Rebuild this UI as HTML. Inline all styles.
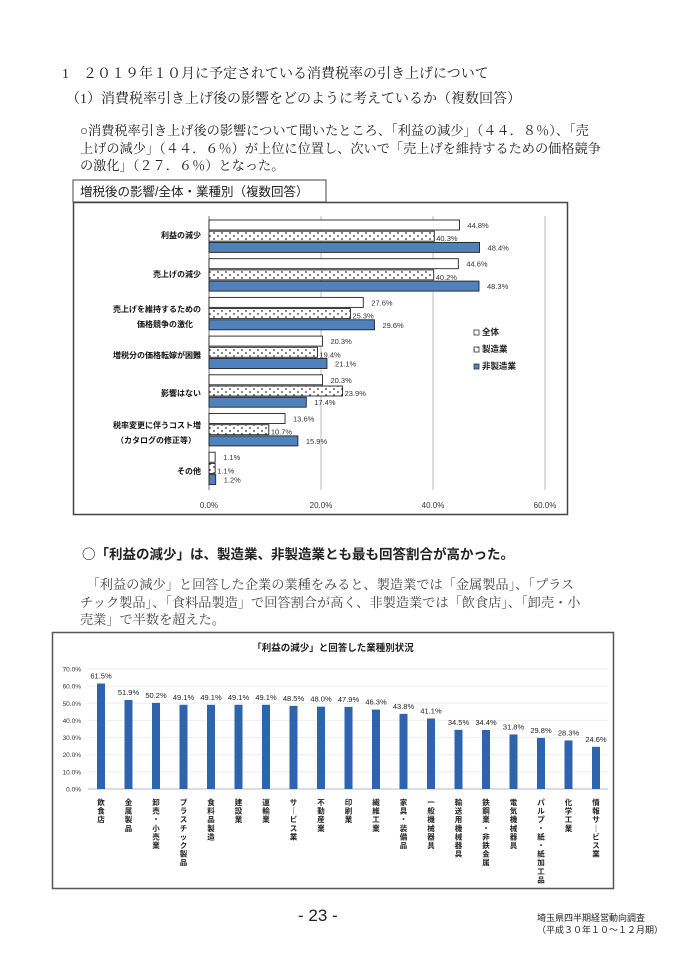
<!DOCTYPE html>
<html><head><meta charset="utf-8">
<style>
body{margin:0;width:674px;height:960px;background:#fff;position:relative;overflow:hidden;font-family:"Liberation Serif","Noto Serif CJK SC","Noto Sans CJK JP",serif;color:#222}
.t{position:absolute;white-space:nowrap;font-size:13px}
.p{position:absolute;font-size:13.2px;line-height:17.5px;white-space:nowrap}
svg{position:absolute;left:0;top:0}
svg text{font-family:"Liberation Sans","Noto Sans CJK JP",sans-serif}
</style></head><body>
<div class="t" style="left:62px;top:63px;font-size:14px">1　２０１９年１０月に予定されている消費税率の引き上げについて</div>
<div class="t" style="left:66px;top:88px;font-size:14px">（1）消費税率引き上げ後の影響をどのように考えているか（複数回答）</div>
<div class="p" style="left:80px;top:122px">○消費税率引き上げ後の影響について聞いたところ、「利益の減少」（４４．８％）、「売<br>上げの減少」（４４．６％）が上位に位置し、次いで「売上げを維持するための価格競争<br>の激化」（２７．６％）となった。</div>
<div class="t" style="left:82px;top:543px;font-size:13.5px;font-weight:bold;font-family:'Noto Sans CJK JP',sans-serif">○「利益の減少」は、製造業、非製造業とも最も回答割合が高かった。</div>
<div class="p" style="left:80px;top:576px;color:#444">　「利益の減少」と回答した企業の業種をみると、製造業では「金属製品」、「プラス<br>チック製品」、「食料品製造」で回答割合が高く、非製造業では「飲食店」、「卸売・小<br>売業」で半数を超えた。</div>
<div class="t" style="left:298px;top:906px;font-size:17px;font-family:'Liberation Sans',sans-serif">- 23 -</div>
<div class="t" style="left:537px;top:912px;font-size:9px;line-height:12px;font-family:'Noto Sans CJK JP',sans-serif">埼玉県四半期経営動向調査<br>（平成３０年１０～１２月期）</div>

<svg width="674" height="960">
<defs><pattern id="dots" width="8" height="6" patternUnits="userSpaceOnUse"><rect width="8" height="6" fill="#fff"/><circle cx="2" cy="2" r="0.9" fill="#333"/><circle cx="6" cy="5" r="0.9" fill="#333"/></pattern></defs>
<rect x="73" y="180" width="253" height="22" fill="#fff" stroke="#444" stroke-width="1"/>
<text x="80" y="196" font-size="12.5" fill="#222" font-family="Noto Sans CJK JP">増税後の影響/全体・業種別（複数回答）</text>
<rect x="73.5" y="202.5" width="494" height="312" fill="#fff" stroke="#444" stroke-width="1.5"/>
<g stroke="#bbb" stroke-width="1"><line x1="321" y1="216" x2="321" y2="490"/><line x1="433" y1="216" x2="433" y2="490"/><line x1="545" y1="216" x2="545" y2="490"/></g>
<line x1="209" y1="216" x2="209" y2="490" stroke="#777"/>
<g font-size="8" fill="#333">
<text x="209" y="508" text-anchor="middle">0.0%</text><text x="321" y="508" text-anchor="middle">20.0%</text><text x="433" y="508" text-anchor="middle">40.0%</text><text x="545" y="508" text-anchor="middle">60.0%</text>
</g>
<g id="bars1" font-size="7.5" fill="#333"></g>
<g font-size="8" fill="#111" text-anchor="end" font-weight="bold">
<text x="201" y="238">利益の減少</text>
<text x="201" y="277">売上げの減少</text>
<text x="201" y="312">売上げを維持するための</text><text x="193" y="327">価格競争の激化</text>
<text x="201" y="358">増税分の価格転嫁が困難</text>
<text x="201" y="396">影響はない</text>
<text x="201" y="428">税率変更に伴うコスト増</text><text x="196" y="443">（カタログの修正等）</text>
<text x="201" y="474">その他</text>
</g>
<g font-size="8.5" fill="#222" font-weight="bold">
<rect x="474" y="330" width="5" height="5" fill="#fff" stroke="#333" stroke-width=".8"/><text x="482" y="335">全体</text>
<rect x="474" y="347" width="5" height="5" fill="url(#dots)" stroke="#333" stroke-width=".8"/><text x="482" y="352">製造業</text>
<rect x="474" y="364" width="5" height="5" fill="#4f81bd" stroke="#333" stroke-width=".8"/><text x="482" y="369">非製造業</text>
</g>
<rect x="52.5" y="632.5" width="561" height="256" fill="#fff" stroke="#555" stroke-width="1.5"/>
<text x="333" y="651" font-size="9.5" text-anchor="middle" fill="#222" font-family="Noto Sans CJK JP" font-weight="bold">「利益の減少」と回答した業種別状況</text>
<g id="grid2"></g>
<g id="bars2"></g>
</svg>
<script>
var ns="http://www.w3.org/2000/svg";
function el(p,t,a,txt){var e=document.createElementNS(ns,t);for(var k in a)e.setAttribute(k,a[k]);if(txt!==undefined)e.textContent=txt;p.appendChild(e);return e;}
var d1=[[44.8,40.3,48.4],[44.6,40.2,48.3],[27.6,25.3,29.6],[20.3,19.4,21.1],[20.3,23.9,17.4],[13.6,10.7,15.9],[1.1,1.1,1.2]];
var g=document.getElementById('bars1');var fills=['#fff','url(#dots)','#4f81bd'];
d1.forEach(function(r,i){var y0=220+i*38.7;r.forEach(function(v,j){var y=y0+j*11.2;var w=v*5.59;
el(g,'rect',{x:209,y:y,width:w,height:10,fill:fills[j],stroke:'#222','stroke-width':0.9});
el(g,'text',{x:209+w+(j==1?2:8),y:y+(j==1?10:8)},v.toFixed(1)+'%');});});
var d2=[[61.5,'飲食店'],[51.9,'金属製品'],[50.2,'卸売・小売業'],[49.1,'プラスチック製品'],[49.1,'食料品製造'],[49.1,'建設業'],[49.1,'運輸業'],[48.5,'サービス業'],[48.0,'不動産業'],[47.9,'印刷業'],[46.3,'繊維工業'],[43.8,'家具・装備品'],[41.1,'一般機械器具'],[34.5,'輸送用機械器具'],[34.4,'鉄鋼業・非鉄金属'],[31.8,'電気機械器具'],[29.8,'パルプ・紙・紙加工品'],[28.3,'化学工業'],[24.6,'情報サービス業']];
var gg=document.getElementById('grid2');var y0=789,u=1.715;
for(var k=0;k<=7;k++){var y=y0-k*10*u;if(k>0)el(gg,'line',{x1:88,y1:y,x2:608,y2:y,stroke:'#eee'});
el(gg,'text',{x:81,y:y+2.5,'font-size':6.5,'text-anchor':'end',fill:'#333'},(k*10).toFixed(1)+'%');}
el(gg,'line',{x1:88,y1:y0,x2:608,y2:y0,stroke:'#bbb'});
var b=document.getElementById('bars2');
d2.forEach(function(r,i){var x=101+i*27.5;var h=r[0]*u;
el(b,'rect',{x:x-4,y:y0-h,width:8,height:h,fill:'#2e63ae'});
el(b,'text',{x:x,y:y0-h-5,'font-size':7.5,'text-anchor':'middle',fill:'#222'},r[0].toFixed(1)+'%');
r[1].split('').forEach(function(c,j){
el(b,'text',{x:x,y:805+j*8.6,'font-size':7.5,'text-anchor':'middle',fill:'#222','font-weight':'bold'},c=='ー'?'｜':c);});});
</script>
</body></html>
